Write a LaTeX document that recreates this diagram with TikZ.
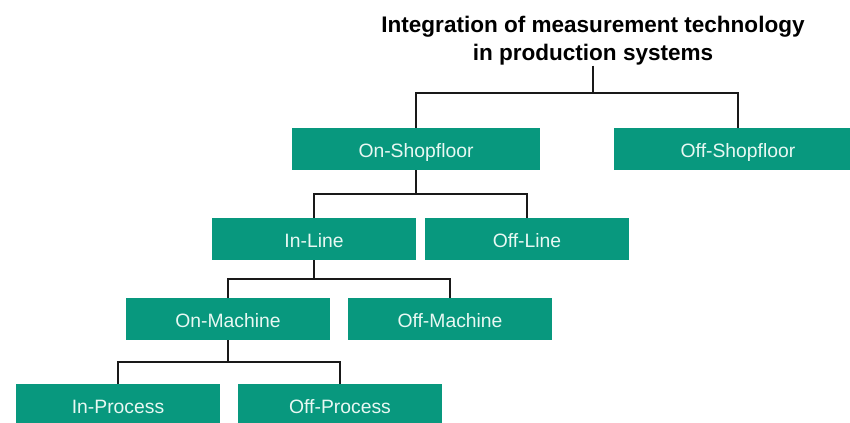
\documentclass[tikz,border=0pt]{standalone}
\usepackage{fontspec}
\setmainfont{Liberation Sans}
\definecolor{boxteal}{RGB}{8,152,126}
\definecolor{boxtext}{RGB}{232,248,243}

\begin{document}
\begin{tikzpicture}[x=0.75pt, y=-0.75pt,
	catbox/.style={fill=boxteal, text=boxtext, minimum width=153pt, minimum height=31.5pt,
		inner sep=0pt, text height=13pt, text depth=0pt, font=\fontsize{14.5}{17}\selectfont},
	widebox/.style={catbox, minimum width=186pt},
	branch/.style={line width=1.8pt, black!90}]
	
	\useasboundingbox (0,0) rectangle (850,423);
	\clip (0,0) rectangle (850,423);
	
	% heading
	\node[anchor=north, inner sep=0pt, align=center, font=\bfseries\fontsize{16.9}{21}\selectfont] (title) at (593,16) {Integration of measurement technology\\in production systems};
	
	% boxes, one row per level
	\node[widebox] (onshop) at (416,149) {On-Shopfloor};
	\node[widebox] (offshop) at (738,149) {Off-Shopfloor};
	\node[catbox] (inline) at (314,239) {In-Line};
	\node[catbox] (offline) at (527,239) {Off-Line};
	\node[catbox] (onmach) at (228,319) {On-Machine};
	\node[catbox] (offmach) at (450,319) {Off-Machine};
	\node[catbox] (inproc) at (118,405) {In-Process};
	\node[catbox] (offproc) at (340,405) {Off-Process};
	
	% branches
	\draw[branch] (onshop.north) -- ++(0,-35) coordinate (b0) -| (offshop.north);
	\draw[branch] (title.south) -- (title.south |- b0);
	\draw[branch] (inline.north) -- ++(0,-24) coordinate (b1) -| (offline.north);
	\draw[branch] (onshop.south) -- (onshop.south |- b1);
	\draw[branch] (onmach.north) -- ++(0,-19) coordinate (b2) -| (offmach.north);
	\draw[branch] (inline.south) -- (inline.south |- b2);
	\draw[branch] (inproc.north) -- ++(0,-22) coordinate (b3) -| (offproc.north);
	\draw[branch] (onmach.south) -- (onmach.south |- b3);
	
\end{tikzpicture}
\end{document}
